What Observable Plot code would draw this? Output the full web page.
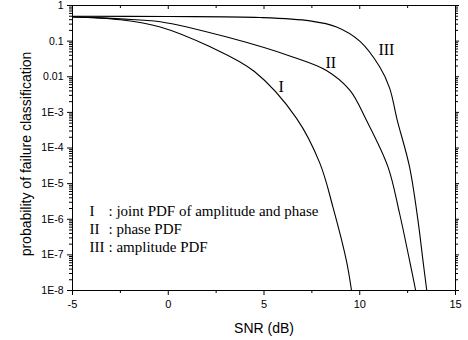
<!DOCTYPE html>
<html>
<head>
<meta charset="utf-8">
<script src="https://cdn.jsdelivr.net/npm/d3@7"></script>
<script src="https://cdn.jsdelivr.net/npm/@observablehq/plot@0.6"></script>
<style>
  html, body { margin: 0; padding: 0; background: #fff; }
</style>
</head>
<body>
<div id="chart"></div>
<script>
// ---- data ----
const xTicks = [-5, 0, 5, 10, 15];
const xMinorTicks = [-2.5, 2.5, 7.5, 12.5];
const yTicks = [1, 0.1, 0.01, 1e-3, 1e-4, 1e-5, 1e-6, 1e-7, 1e-8];
const yTickLabels = ["1", "0.1", "0.01", "1E-3", "1E-4", "1E-5", "1E-6", "1E-7", "1E-8"];

// curve I : joint PDF of amplitude and phase
const snrI = [-5, -2.5, -0.42, 2.19, 4.5, 6.7, 7.92, 8.6, 9.3, 9.57];
const pI   = [0.48, 0.40, 0.25, 0.069, 0.014, 6.8e-4, 3.7e-5, 2.2e-6, 7e-8, 1e-8];
// curve II : phase PDF
const snrII = [-5, -2.5, -0.42, 3.06, 6.5, 8.26, 9.48, 10.35, 11.47, 12.08, 12.6, 12.92];
const pII   = [0.48, 0.42, 0.35, 0.13, 0.036, 0.015, 0.0042, 6e-4, 3e-5, 1.45e-6, 7e-8, 1e-8];
// curve III : amplitude PDF
const snrIII = [-5, 0, 4.79, 7.4, 8.79, 10, 11.04, 11.56, 11.95, 12.6, 13.04, 13.3, 13.5];
const pIII   = [0.5, 0.49, 0.46, 0.37, 0.25, 0.1, 0.019, 0.0048, 6.3e-4, 2.95e-5, 9.3e-7, 7e-8, 1e-8];

const curveLabels = ["I", "II", "III"];
const curveLabelX = [5.89, 8.49, 11.39];
const curveLabelY = [0.00517, 0.0247, 0.0585];

const legendNumerals = ["I", "II", "III"];
const legendTexts = [": joint PDF of amplitude and phase", ": phase PDF", ": amplitude PDF"];

const xLabel = "SNR (dB)";
const yLabel = "probability of failure classification";

// ---- build ----
const rows = [];
[["I", snrI, pI], ["II", snrII, pII], ["III", snrIII, pIII]].forEach(([s, xs, ys]) => {
  xs.forEach((x, i) => rows.push({series: s, x, y: ys[i]}));
});
const labelRows = curveLabels.map((t, i) => ({t, x: curveLabelX[i], y: curveLabelY[i]}));

const yMinor = [];
for (let k = 0; k < 8; k++) for (let m = 2; m <= 9; m++) yMinor.push(m * Math.pow(10, -(k + 1)));

const fmt = new Map(yTicks.map((v, i) => [v, yTickLabels[i]]));
const sans = "Liberation Sans, Arial, sans-serif";
const serif = "Liberation Serif, Times New Roman, serif";

const chart = Plot.plot({
  width: 468,
  height: 340,
  marginLeft: 72,
  marginRight: 13,
  marginTop: 5,
  marginBottom: 50,
  style: {background: "#fff", color: "#000", fontFamily: sans, fontSize: "11px"},
  x: {domain: [-5, 15]},
  y: {type: "log", domain: [1e-8, 1]},
  marks: [
    // bottom axis
    Plot.axisX({anchor: "bottom", ticks: xTicks, tickSize: 5, tickPadding: 5, tickFormat: d => String(d), label: null, fontSize: 11}),
    Plot.axisX({anchor: "bottom", ticks: xMinorTicks, tickSize: 3, text: null, label: null}),
    // top axis (inward ticks)
    Plot.axisX({anchor: "top", ticks: xTicks, tickSize: -3, text: null, label: null}),
    Plot.axisX({anchor: "top", ticks: xMinorTicks, tickSize: -2, text: null, label: null}),
    // left axis
    Plot.axisY({anchor: "left", ticks: yTicks, tickSize: 5, tickPadding: 4, tickFormat: d => fmt.get(d), label: null, fontSize: 10.5}),
    Plot.axisY({anchor: "left", ticks: yMinor, tickSize: 3, text: null, label: null}),
    // right axis
    Plot.axisY({anchor: "right", ticks: yTicks, tickSize: 3, text: null, label: null}),
    Plot.axisY({anchor: "right", ticks: yMinor, tickSize: 2, text: null, label: null}),
    Plot.frame({stroke: "#000", strokeWidth: 1}),
    // curves
    Plot.line(rows, {x: "x", y: "y", z: "series", curve: "catmull-rom", stroke: "#000", strokeWidth: 1.1}),
    // curve labels
    Plot.text(labelRows, {x: "x", y: "y", text: "t", fontFamily: serif, fontSize: 16, lineAnchor: "middle", textAnchor: "middle", fill: "#000"}),
    // legend
    Plot.text([legendNumerals.join("\n")], {frameAnchor: "top-left", dx: 17, dy: 197.4, lineHeight: 1.2, lineAnchor: "top", textAnchor: "start", fontFamily: serif, fontSize: 15, fill: "#000"}),
    Plot.text([legendTexts.join("\n")], {frameAnchor: "top-left", dx: 36, dy: 197.4, lineHeight: 1.2, lineAnchor: "top", textAnchor: "start", fontFamily: serif, fontSize: 15, fill: "#000"}),
    // axis titles
    Plot.text([xLabel], {frameAnchor: "bottom", dy: 33, lineAnchor: "top", textAnchor: "middle", fontFamily: sans, fontSize: 14, fill: "#000"}),
    Plot.text([yLabel], {frameAnchor: "left", dx: -46, dy: 6, rotate: -90, lineAnchor: "middle", textAnchor: "middle", fontFamily: sans, fontSize: 14, fill: "#000"})
  ]
});
document.getElementById("chart").appendChild(chart);
</script>
</body>
</html>
